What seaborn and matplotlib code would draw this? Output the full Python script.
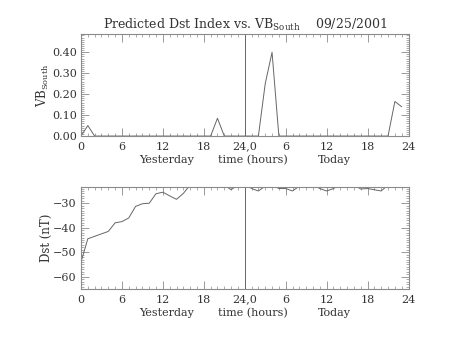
import numpy as np
import pandas as pd
import matplotlib
matplotlib.use("Agg")
import matplotlib.pyplot as plt
from matplotlib.ticker import MultipleLocator
import seaborn as sns

# Hourly values over two days: hour 0-23 yesterday, 24-47 today
hours = list(range(48))
vb_south = [0.00, 0.05, 0.00, 0.00, 0.00, 0.00, 0.00, 0.00, 0.00, 0.00,
            0.00, 0.00, 0.00, 0.00, 0.00, 0.00, 0.00, 0.00, 0.00, 0.00,
            0.085, 0.00, 0.00, 0.00, 0.00, 0.00, 0.00, 0.25, 0.40, 0.00,
            0.00, 0.00, 0.00, 0.00, 0.00, 0.00, 0.00, 0.00, 0.00, 0.00,
            0.00, 0.00, 0.00, 0.00, 0.00, 0.00, 0.165, 0.14]
dst = [-54.0, -44.5, -43.5, -42.5, -41.5, -38.0, -37.5, -36.0, -31.3, -30.2,
       -30.0, -26.1, -25.5, -27.0, -28.4, -26.0, -22.5, -21.5, -21.0, -21.5,
       -22.0, -22.5, -24.5, -22.5, -22.0, -24.0, -25.0, -23.0, -22.5, -24.0,
       -24.0, -25.0, -23.0, -22.5, -22.5, -24.0, -25.0, -24.0, -22.5, -22.5,
       -22.5, -24.2, -24.0, -24.5, -25.0, -22.5, -22.0, -22.0]

tick_pos = [0, 6, 12, 18, 24, 30, 36, 42, 48]
tick_labels = ["0", "6", "12", "18", "24,0", "6", "12", "18", "24"]
day_labels = ["Yesterday", "time (hours)", "Today"]
day_pos = [12.5, 25.2, 37.2]

df = pd.DataFrame({"hour": hours, "vb": vb_south, "dst": dst})

sns.set_style("ticks")
plt.rcParams["font.family"] = ["DejaVu Serif"]
plt.rcParams["mathtext.fontset"] = "custom"
plt.rcParams["mathtext.rm"] = "DejaVu Serif"

frame = "#8a8a8a"
ink = "#333333"
line_c = "#666666"

fig = plt.figure(figsize=(4.54, 3.41), dpi=100)
ax1 = fig.add_axes([0.1784, 0.601, 0.7214, 0.298])
ax2 = fig.add_axes([0.1784, 0.1525, 0.7214, 0.2982])

sns.lineplot(data=df, x="hour", y="vb", ax=ax1, color=line_c, lw=0.7)
sns.lineplot(data=df, x="hour", y="dst", ax=ax2, color=line_c, lw=0.7)

ax1.set_ylim(0, 0.485)
ax1.set_yticks([0.0, 0.1, 0.2, 0.3, 0.4])
ax1.set_yticklabels(["0.00", "0.10", "0.20", "0.30", "0.40"])
ax1.yaxis.set_minor_locator(MultipleLocator(0.01))
ax1.set_ylabel(r"VB$_{\rm South}$", fontsize=8.5, color=ink)
ax1.yaxis.set_label_coords(-0.092, 0.5)

ax2.set_ylim(-65, -23.5)
ax2.set_yticks([-60, -50, -40, -30])
ax2.set_yticklabels(["\u221260", "\u221250", "\u221240", "\u221230"])
ax2.yaxis.set_minor_locator(MultipleLocator(1))
ax2.set_ylabel("Dst (nT)", fontsize=8.5, color=ink)
ax2.yaxis.set_label_coords(-0.085, 0.5)

for ax in (ax1, ax2):
    ax.set_xlim(0, 48)
    ax.set_xticks(tick_pos)
    ax.set_xticklabels(tick_labels)
    ax.xaxis.set_minor_locator(MultipleLocator(1))
    ax.set_xlabel("")
    ax.axvline(24, color=line_c, lw=0.7)
    ax.tick_params(which="major", direction="in", length=6, width=0.6,
                   color=frame, labelcolor=ink, labelsize=8,
                   top=True, right=True, pad=4)
    ax.tick_params(axis="y", which="major", pad=3)
    ax.tick_params(which="minor", direction="in", length=2.5, width=0.5,
                   color=frame, top=True, right=True)
    for s in ax.spines.values():
        s.set_color(frame)
        s.set_linewidth(0.8)
    for lbl, xp in zip(day_labels, day_pos):
        ax.text(xp, -0.19, lbl, transform=ax.get_xaxis_transform(),
                ha="center", va="top", fontsize=8, color=ink)

ax1.set_title(r"Predicted Dst Index vs. VB$_{\rm South}$    09/25/2001",
              fontsize=9, color=ink, pad=4)

fig.savefig("out.png", dpi=100)
